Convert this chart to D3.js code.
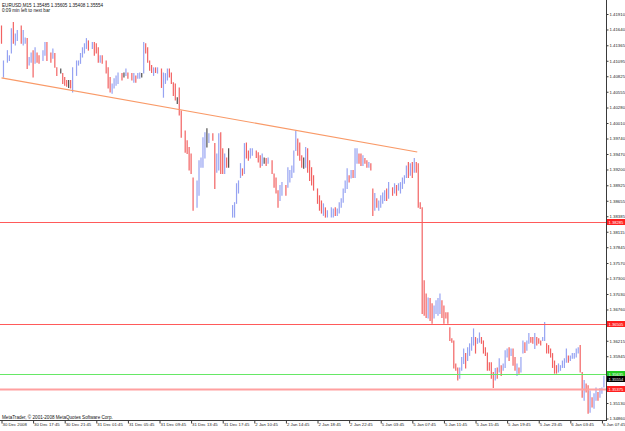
<!DOCTYPE html>
<html>
<head>
<meta charset="utf-8">
<script src="https://cdn.jsdelivr.net/npm/d3@7/dist/d3.min.js"></script>
<style>
  body { margin: 0; background: #fff; }
  svg text { font-family: "Liberation Sans", Arial, sans-serif; }
</style>
</head>
<body>
<div id="chart-area"></div>
<script>
// EURUSD M15 bars
const WIDTH = 625
const HEIGHT = 431
const PLOT_RIGHT = 606
const PLOT_BOTTOM = 420

// bar slot number (15 min bars from 30 Dec)
const slots = [0,1,3,4,5,6,7,8,10,11,12,
  13,14,15,16,17,18,19,21,22,23,
  25,26,27,28,30,31,32,33,34,35,
  36,38,39,40,41,42,43,44,46,47,
  48,49,50,51,53,54,55,56,57,58,
  59,61,62,63,64,66,67,68,69,70,
  71,72,73,74,75,76,77,78,79,81,
  82,83,84,85,86,87,88,89,90,91,
  93,94,95,96,97,99,100,101,102,103,
  104,105,107,108,109,110,111,112,113,114,
  115,117,118,119,120,121,122,123,124,125,
  126,127,129,130,131,132,133,134,135,137,
  138,139,140,141,142,144,145,146,147,148,
  149,150,151,152,153,154,155,156,157,158,
  160,161,162,163,164,165,167,168,169,170,
  171,172,173,174,175,176,177,178,179,180,
  181,182,183,184,185,186,187,188,189,190,
  191,192,193,194,195,196,198,199,200,201,
  202,203,204,205,206,207,208,209,210,211,
  212,213,214,215,216,217,218,219,220,221,
  222,223,224,225,226,227,228,229,230,231,
  232,233,234,235,236,237,238,239,240,241,
  242,243,244,245,246,247,248,249,250,251,
  252,253,254,255,256,257,258,259,260,261,
  262,263,264,265,266,267,268,269,270,271,
  272,273,274,275,276,277,278,279,280,281,
  282,283,284,285,286,287,288,289,290,291,
  292,293,294,295,296,297,298,299,300,301,
  302,303,304,305]

const highs = [1.4171,1.4110,1.4128,1.4119,1.4166,1.4177,1.4157,1.4163,1.4171,1.4163,1.4150,
  1.4149,1.4116,1.4124,1.4128,1.4133,1.4124,1.4119,1.4128,1.4142,1.4142,
  1.4124,1.4131,1.4123,1.4098,1.4096,1.4088,1.4081,1.4076,1.4076,1.4076,
  1.4098,1.4110,1.4110,1.4123,1.4133,1.4140,1.4149,1.4145,1.4142,1.4142,
  1.4140,1.4133,1.4119,1.4119,1.4110,1.4098,1.4081,1.4070,1.4079,1.4084,
  1.4089,1.4088,1.4089,1.4096,1.4089,1.4088,1.4088,1.4084,1.4088,1.4089,
  1.4088,1.4142,1.4140,1.4133,1.4110,1.4102,1.4098,1.4098,1.4098,1.4096,
  1.4089,1.4088,1.4096,1.4096,1.4089,1.4072,1.4070,1.4046,1.4063,1.4023,
  1.3988,1.3971,1.3959,1.3948,1.3906,1.3901,1.3936,1.3941,1.3976,1.3985,
  1.3992,1.3983,1.3983,1.3966,1.3948,1.3983,1.3985,1.3957,1.3948,1.3941,
  1.3957,1.3858,1.3863,1.3896,1.3901,1.3931,1.3922,1.3966,1.3967,1.3953,
  1.3957,1.3957,1.3953,1.3950,1.3945,1.3948,1.3941,1.3940,1.3941,1.3936,
  1.3913,1.3906,1.3884,1.3893,1.3898,1.3893,1.3924,1.3919,1.3927,1.3953,
  1.3988,1.3974,1.3967,1.3945,1.3941,1.3959,1.3957,1.3936,1.3924,1.3910,
  1.3887,1.3875,1.3866,1.3861,1.3854,1.3849,1.3854,1.3852,1.3854,1.3852,
  1.3863,1.3870,1.3887,1.3901,1.3922,1.3910,1.3919,1.3919,1.3957,1.3957,
  1.3948,1.3948,1.3945,1.3940,1.3936,1.3933,1.3931,1.3887,1.3879,1.3870,
  1.3866,1.3875,1.3880,1.3884,1.3887,1.3898,1.3889,1.3896,1.3893,1.3896,
  1.3898,1.3906,1.3910,1.3927,1.3933,1.3931,1.3933,1.3940,1.3933,1.3931,
  1.3863,1.3854,1.3727,1.3704,1.3697,1.3696,1.3687,1.3683,1.3692,1.3696,
  1.3704,1.3692,1.3683,1.3671,1.3671,1.3645,1.3626,1.3622,1.3582,1.3575,
  1.3575,1.3593,1.3608,1.3600,1.3610,1.3617,1.3628,1.3643,1.3628,1.3626,
  1.3636,1.3628,1.3622,1.3610,1.3601,1.3584,1.3584,1.3567,1.3574,1.3575,
  1.3591,1.3579,1.3582,1.3605,1.3608,1.3610,1.3608,1.3608,1.3593,1.3582,
  1.3575,1.3593,1.3622,1.3619,1.3622,1.3635,1.3628,1.3628,1.3635,1.3628,
  1.3626,1.3622,1.3628,1.3654,1.3617,1.3614,1.3608,1.3600,1.3587,1.3579,
  1.3582,1.3579,1.3587,1.3591,1.3608,1.3596,1.3596,1.3600,1.3600,1.3608,
  1.3610,1.3614,1.3567,1.3553,1.3547,1.3544,1.3535,1.3523,1.3530,1.3540,
  1.3532,1.3539,1.3540,1.35605]

const lows = [1.4140,1.4081,1.4107,1.4110,1.4123,1.4140,1.4137,1.4145,1.4140,1.4137,1.4140,
  1.4096,1.4102,1.4107,1.4081,1.4105,1.4107,1.4105,1.4110,1.4119,1.4110,
  1.4107,1.4114,1.4098,1.4084,1.4088,1.4070,1.4067,1.4065,1.4063,1.4062,
  1.4055,1.4084,1.4102,1.4105,1.4116,1.4123,1.4131,1.4128,1.4131,1.4119,
  1.4123,1.4107,1.4107,1.4105,1.4088,1.4062,1.4055,1.4053,1.4062,1.4067,
  1.4070,1.4076,1.4081,1.4084,1.4079,1.4076,1.4072,1.4072,1.4079,1.4079,
  1.4081,1.4088,1.4123,1.4107,1.4093,1.4089,1.4084,1.4089,1.4088,1.4063,
  1.4046,1.4070,1.4076,1.4081,1.4070,1.4049,1.4041,1.4035,1.4015,1.3976,
  1.3950,1.3948,1.3919,1.3913,1.3849,1.3854,1.3875,1.3924,1.3924,1.3940,
  1.3959,1.3967,1.3971,1.3887,1.3915,1.3919,1.3913,1.3913,1.3913,1.3924,
  1.3924,1.3837,1.3837,1.3861,1.3879,1.3906,1.3910,1.3913,1.3940,1.3936,
  1.3940,1.3945,1.3941,1.3933,1.3924,1.3927,1.3931,1.3927,1.3931,1.3913,
  1.3889,1.3879,1.3854,1.3866,1.3875,1.3875,1.3889,1.3898,1.3906,1.3915,
  1.3953,1.3945,1.3936,1.3924,1.3922,1.3924,1.3915,1.3901,1.3893,1.3884,
  1.3861,1.3849,1.3844,1.3840,1.3837,1.3837,1.3837,1.3837,1.3840,1.3840,
  1.3844,1.3854,1.3863,1.3880,1.3887,1.3898,1.3905,1.3906,1.3906,1.3931,
  1.3931,1.3927,1.3927,1.3931,1.3924,1.3924,1.3919,1.3840,1.3849,1.3854,
  1.3849,1.3854,1.3861,1.3866,1.3866,1.3870,1.3875,1.3879,1.3875,1.3884,
  1.3879,1.3887,1.3896,1.3906,1.3906,1.3910,1.3906,1.3915,1.3915,1.3854,
  1.3852,1.3669,1.3666,1.3662,1.3661,1.3657,1.3652,1.3661,1.3669,1.3666,
  1.3669,1.3662,1.3652,1.3661,1.3652,1.3622,1.3619,1.3574,1.3570,1.3553,
  1.3556,1.3570,1.3582,1.3574,1.3587,1.3596,1.3605,1.3614,1.3600,1.3617,
  1.3619,1.3617,1.3600,1.3596,1.3570,1.3570,1.3556,1.3540,1.3553,1.3556,
  1.3567,1.3561,1.3570,1.3575,1.3593,1.3587,1.3596,1.3579,1.3570,1.3561,
  1.3565,1.3567,1.3600,1.3601,1.3605,1.3617,1.3619,1.3617,1.3608,1.3614,
  1.3617,1.3614,1.3622,1.3622,1.3600,1.3600,1.3593,1.3575,1.3565,1.3565,
  1.3567,1.3570,1.3575,1.3575,1.3584,1.3584,1.3587,1.3591,1.3591,1.3593,
  1.3600,1.3567,1.3523,1.3518,1.3532,1.3495,1.3497,1.3506,1.3504,1.3518,
  1.3518,1.3523,1.3530,1.35408]

// u = up bar, d = down bar, n = unchanged
const dirs = ("d" +
  "uuuuduuduu" + "duududduud" + "duddndddnd" + "uuuuuuudud" + "ddudddduuu" +
  "udnudduduu" + "nuddddudud" + "uuuddddndd" + "ddddduuuuu" + "nudduuddud" +
  "nuuuuududd" + "uudddundud" + "ddduuduuuu" + "udddnudddd" + "ddduduuudu" +
  "uuuuududuu" + "ddudduddud" + "uuuudududu" + "uuuudududd" + "ddddudduuu" +
  "uddddddddd" + "uuuduuuudu" + "udddddddud" + "uduuududdu" + "duuduuddud" +
  "dduudddddd" + "uuuuuduuuu" + "uddudduduu" + "duuu").split("")

// last bar quote: open, high, low, close
const quote = [1.35485, 1.35605, 1.35408, 1.35554]

const priceTicks = [1.41910, 1.41640, 1.41365, 1.41095, 1.40825, 1.40555, 1.40280,
  1.40010, 1.39740, 1.39470, 1.39200, 1.38925, 1.38655, 1.38385, 1.38115, 1.37845,
  1.37570, 1.37300, 1.37030, 1.36760, 1.36485, 1.36215, 1.35945, 1.35675, 1.35400,
  1.35130, 1.34860]

const timeSlots = [0, 16, 32, 48, 64, 80, 96, 112, 128, 144, 160, 176, 192, 208,
  224, 240, 256, 272, 288, 304]
const timeLabels = ["30 Dec 2008", "30 Dec 17:45", "30 Dec 21:45", "31 Dec 01:45",
  "31 Dec 05:45", "31 Dec 09:45", "31 Dec 13:45", "31 Dec 17:45", "2 Jan 10:45",
  "2 Jan 14:45", "2 Jan 18:45", "2 Jan 22:45", "5 Jan 03:45", "5 Jan 07:45",
  "5 Jan 11:45", "5 Jan 15:45", "5 Jan 19:45", "5 Jan 23:45", "6 Jan 03:45",
  "6 Jan 07:45"]

// horizontal levels and the trend line
const levelPrices = [1.38285, 1.36505, 1.35635, 1.35375]
const trendSlots = [0, 210.5]
const trendPrices = [1.40797, 1.39505]

const BAR_COLORS = { u: "#8493f0", d: "#f04646", n: "#303030" }
const LEVEL_STYLE = [
  { stroke: "#ff5a5a", width: 1, box: "#ff2020" },
  { stroke: "#ff5a5a", width: 1, box: "#ff2020" },
  { stroke: "#66e866", width: 1, box: "#22cc22" },
  { stroke: "#ffa0a0", width: 2, box: "#ff2020" }
]

const x = d3.scaleLinear().domain([0, 305]).range([1.5, 603.9])
const y = d3.scaleLinear().domain([1.34860, 1.41910]).range([418.5, 14])

const svg = d3.select("#chart-area").append("svg")
  .attr("width", WIDTH)
  .attr("height", HEIGHT)
  .style("display", "block")

svg.append("rect")
  .attr("width", WIDTH).attr("height", HEIGHT)
  .attr("fill", "#fff")

svg.append("clipPath").attr("id", "plot")
  .append("rect")
  .attr("x", 0).attr("y", 0)
  .attr("width", PLOT_RIGHT).attr("height", PLOT_BOTTOM)

const plot = svg.append("g").attr("clip-path", "url(#plot)")

// bars, a bit soft like the scaled-down screenshot
const bars = slots.map((s, i) => ({ slot: s, high: highs[i], low: lows[i], dir: dirs[i] }))
plot.append("g").selectAll("line")
  .data(bars)
  .enter().append("line")
    .attr("x1", d => x(d.slot))
    .attr("x2", d => x(d.slot))
    .attr("y1", d => y(d.high))
    .attr("y2", d => y(d.low) + 0.5)
    .attr("stroke", d => BAR_COLORS[d.dir])
    .attr("stroke-width", 1.2)
    .attr("stroke-opacity", 0.85)

// horizontal levels
plot.append("g").selectAll("line")
  .data(levelPrices)
  .enter().append("line")
    .attr("x1", 0)
    .attr("x2", PLOT_RIGHT)
    .attr("y1", d => Math.round(y(d)) + 0.5)
    .attr("y2", d => Math.round(y(d)) + 0.5)
    .attr("stroke", (d, i) => LEVEL_STYLE[i].stroke)
    .attr("stroke-width", (d, i) => LEVEL_STYLE[i].width)

// trend line
plot.append("line")
  .attr("x1", x(trendSlots[0])).attr("y1", y(trendPrices[0]))
  .attr("x2", x(trendSlots[1])).attr("y2", y(trendPrices[1]))
  .attr("stroke", "#f99a68")
  .attr("stroke-width", 1.2)

// frame
svg.append("line")
  .attr("x1", PLOT_RIGHT + 0.5).attr("x2", PLOT_RIGHT + 0.5)
  .attr("y1", 0).attr("y2", PLOT_BOTTOM + 1)
  .attr("stroke", "#3a3a3a")
svg.append("line")
  .attr("x1", 0).attr("x2", PLOT_RIGHT + 1)
  .attr("y1", PLOT_BOTTOM + 0.5).attr("y2", PLOT_BOTTOM + 0.5)
  .attr("stroke", "#3a3a3a")

// price boxes on the axis (the last close sits among the levels)
const boxes = levelPrices.map((p, i) => ({ price: p, fill: LEVEL_STYLE[i].box }))
boxes.splice(3, 0, { price: quote[3], fill: "#000" })

// tick labels hidden under a box are not shown
const shownTicks = priceTicks.filter(t =>
  boxes.every(b => Math.abs(y(t) - y(b.price)) > 4.5))

const yAxisCall = d3.axisRight(y)
  .tickValues(priceTicks)
  .tickSize(2)
  .tickPadding(1)
  .tickFormat(d => shownTicks.includes(d) ? d3.format(".5f")(d) : "")
const yAxis = svg.append("g")
  .attr("transform", `translate(${PLOT_RIGHT + 0.5}, 0)`)
  .call(yAxisCall)
yAxis.select(".domain").remove()
yAxis.selectAll("line").attr("stroke", "#3a3a3a")
yAxis.selectAll("text")
  .attr("font-size", "4.3px")
  .attr("fill", "#222")

const boxG = svg.append("g").selectAll("g")
  .data(boxes)
  .enter().append("g")
    .attr("transform", d => `translate(${PLOT_RIGHT + 1}, ${Math.round(y(d.price))})`)
boxG.append("rect")
  .attr("x", 0).attr("y", -3)
  .attr("width", 18).attr("height", 6)
  .attr("fill", d => d.fill)
boxG.append("text")
  .attr("x", 1.5).attr("y", 1.5)
  .attr("font-size", "4.1px")
  .attr("fill", "#fff")
  .text(d => d3.format(".5f")(d.price))

// time axis
const xAxisCall = d3.axisBottom(x)
  .tickValues(timeSlots)
  .tickSize(3)
  .tickFormat((d, i) => timeLabels[i])
const xAxis = svg.append("g")
  .attr("transform", `translate(0, ${PLOT_BOTTOM + 0.5})`)
  .call(xAxisCall)
xAxis.select(".domain").remove()
xAxis.selectAll("line").attr("stroke", "#3a3a3a")
xAxis.selectAll("text")
  .attr("font-size", "4.3px")
  .attr("fill", "#222")
  .attr("text-anchor", "start")
  .attr("dx", "0.5px")
  .attr("y", 2.5)

// header and footer
svg.append("text")
  .attr("x", 2).attr("y", 6.5)
  .attr("font-size", "4.6px").attr("fill", "#111")
  .text("EURUSD,M15  " + quote.map(d3.format(".5f")).join(" "))
svg.append("text")
  .attr("x", 2).attr("y", 12)
  .attr("font-size", "4.6px").attr("fill", "#111")
  .text("0:09 min left to next bar")
svg.append("text")
  .attr("x", 2).attr("y", 418.5)
  .attr("font-size", "4.6px").attr("fill", "#111")
  .text("MetaTrader, © 2001-2008 MetaQuotes Software Corp.")
</script>
</body>
</html>
